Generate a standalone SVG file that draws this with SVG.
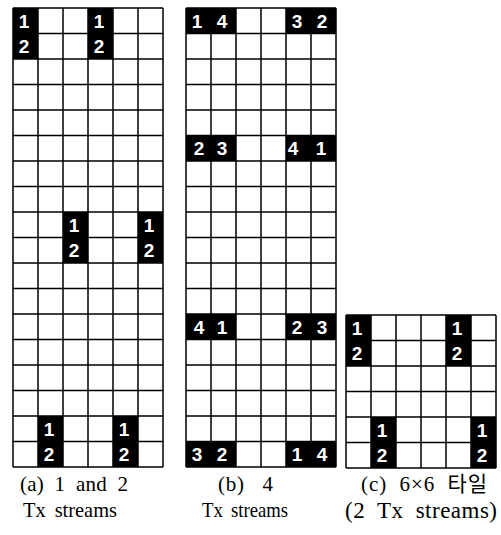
<svg xmlns="http://www.w3.org/2000/svg" width="501" height="535" viewBox="0 0 501 535">
<style>
.blk{fill:#000}
.grid{fill:none;stroke:#000;stroke-width:1.5}
.d{font-family:"Liberation Sans",Arial,sans-serif;font-weight:bold;font-size:19px;fill:#fff;text-anchor:middle}
.cap{font-family:"Liberation Serif","Noto Sans CJK KR",serif;font-size:21px;fill:#000}
</style>
<rect width="501" height="535" fill="#fff"/>
<g id="grid-a">
<rect class="blk" x="13" y="8" width="25" height="51"/>
<rect class="blk" x="88" y="8" width="25" height="51"/>
<rect class="blk" x="63" y="212" width="25" height="51"/>
<rect class="blk" x="138" y="212" width="25" height="51"/>
<rect class="blk" x="38" y="416" width="25" height="51"/>
<rect class="blk" x="113" y="416" width="25" height="51"/>
<path class="grid" d="M13 8V467M38 8V467M63 8V467M88 8V467M113 8V467M138 8V467M163 8V467M13 8H163M13 33.5H163M13 59H163M13 84.5H163M13 110H163M13 135.5H163M13 161H163M13 186.5H163M13 212H163M13 237.5H163M13 263H163M13 288.5H163M13 314H163M13 339.5H163M13 365H163M13 390.5H163M13 416H163M13 441.5H163M13 467H163"/>
<text class="d" x="24" y="27.5">1</text><text class="d" x="24" y="53">2</text>
<text class="d" x="99" y="27.5">1</text><text class="d" x="99" y="53">2</text>
<text class="d" x="74" y="231.5">1</text><text class="d" x="74" y="257">2</text>
<text class="d" x="149" y="231.5">1</text><text class="d" x="149" y="257">2</text>
<text class="d" x="49" y="435.5">1</text><text class="d" x="49" y="461">2</text>
<text class="d" x="124" y="435.5">1</text><text class="d" x="124" y="461">2</text>
<text class="cap" x="20" y="491" word-spacing="5" textLength="108">(a) 1 and 2</text>
<text class="cap" x="23" y="517" word-spacing="4" textLength="94" lengthAdjust="spacingAndGlyphs">Tx streams</text>
</g>
<g id="grid-b">
<rect class="blk" x="186" y="8" width="50" height="25.5"/>
<rect class="blk" x="286" y="8" width="50" height="25.5"/>
<rect class="blk" x="186" y="135.5" width="50" height="25.5"/>
<rect class="blk" x="286" y="135.5" width="50" height="25.5"/>
<rect class="blk" x="186" y="314" width="50" height="25.5"/>
<rect class="blk" x="286" y="314" width="50" height="25.5"/>
<rect class="blk" x="186" y="441.5" width="50" height="25.5"/>
<rect class="blk" x="286" y="441.5" width="50" height="25.5"/>
<path class="grid" d="M186 8V467M211 8V467M236 8V467M261 8V467M286 8V467M311 8V467M336 8V467M186 8H336M186 33.5H336M186 59H336M186 84.5H336M186 110H336M186 135.5H336M186 161H336M186 186.5H336M186 212H336M186 237.5H336M186 263H336M186 288.5H336M186 314H336M186 339.5H336M186 365H336M186 390.5H336M186 416H336M186 441.5H336M186 467H336"/>
<text class="d" x="197" y="27.5">1</text><text class="d" x="222" y="27.5">4</text>
<text class="d" x="297" y="27.5">3</text><text class="d" x="322" y="27.5">2</text>
<text class="d" x="199" y="155">2</text><text class="d" x="222" y="155">3</text>
<text class="d" x="293" y="155">4</text><text class="d" x="321" y="155">1</text>
<text class="d" x="199" y="333.5">4</text><text class="d" x="222" y="333.5">1</text>
<text class="d" x="297" y="333.5">2</text><text class="d" x="322" y="333.5">3</text>
<text class="d" x="197" y="461">3</text><text class="d" x="222" y="461">2</text>
<text class="d" x="297" y="461">1</text><text class="d" x="322" y="461">4</text>
<text class="cap" x="218" y="491" word-spacing="12" textLength="55">(b) 4</text>
<text class="cap" x="202" y="517" word-spacing="4" textLength="86" lengthAdjust="spacingAndGlyphs">Tx streams</text>
</g>
<g id="grid-c">
<rect class="blk" x="346" y="315" width="25" height="51"/>
<rect class="blk" x="446" y="315" width="25" height="51"/>
<rect class="blk" x="371" y="417" width="25" height="51"/>
<rect class="blk" x="471" y="417" width="25" height="51"/>
<path class="grid" d="M346 315V468M371 315V468M396 315V468M421 315V468M446 315V468M471 315V468M496 315V468M346 315H496M346 340.5H496M346 366H496M346 391.5H496M346 417H496M346 442.5H496M346 468H496"/>
<text class="d" x="357" y="334.5">1</text><text class="d" x="357" y="360">2</text>
<text class="d" x="457" y="334.5">1</text><text class="d" x="457" y="360">2</text>
<text class="d" x="382" y="436.5">1</text><text class="d" x="382" y="462">2</text>
<text class="d" x="482" y="436.5">1</text><text class="d" x="482" y="462">2</text>
<text class="cap" x="361" y="491" word-spacing="6" textLength="126">(c) 6×6 타일</text>
<text class="cap" x="345" y="518" style="font-size:23px" word-spacing="6" textLength="152">(2 Tx streams)</text>
</g>
<g id="connectors"/>
</svg>
